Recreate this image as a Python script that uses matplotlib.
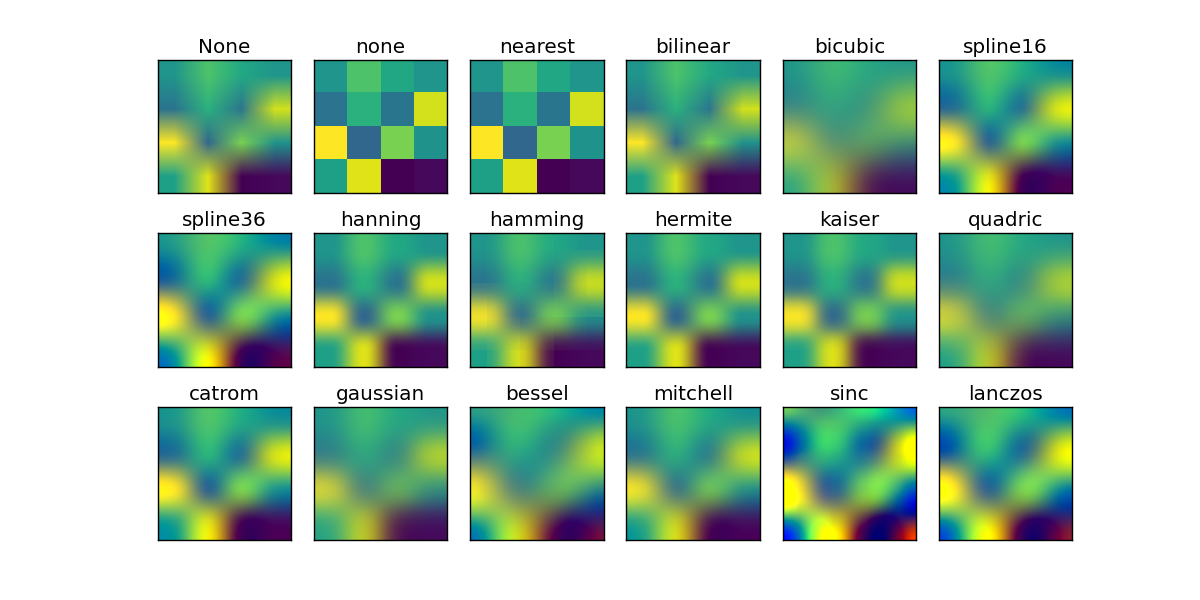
import numpy as np
import matplotlib
matplotlib.use('Agg')
import matplotlib.pyplot as plt

methods = [None, 'none', 'nearest', 'bilinear', 'bicubic', 'spline16',
           'spline36', 'hanning', 'hamming', 'hermite', 'kaiser', 'quadric',
           'catrom', 'gaussian', 'bessel', 'mitchell', 'sinc', 'lanczos']

row0 = [0.52, 0.72, 0.60, 0.52]
row1 = [0.38, 0.64, 0.39, 0.93]
row2 = [1.00, 0.33, 0.80, 0.51]
row3 = [0.57, 0.95, 0.00, 0.02]
grid = np.array([row0, row1, row2, row3])

plt.rc('axes', linewidth=1.0)

fig, axes = plt.subplots(3, 6, figsize=(12, 6), subplot_kw={'xticks': [], 'yticks': []})
fig.subplots_adjust(left=0.125, right=0.9, bottom=0.1, top=0.9, hspace=0.3, wspace=0.05)

for ax, name in zip(axes.flat, methods):
    # None fell back on bilinear in the old default
    interp = 'bilinear' if name is None else name
    ax.imshow(grid, interpolation=interp, interpolation_stage='rgba', cmap='viridis', vmin=0, vmax=1)
    ax.set_title(str(name), fontsize=14.4, pad=5)

fig.savefig('out.png', dpi=100)
